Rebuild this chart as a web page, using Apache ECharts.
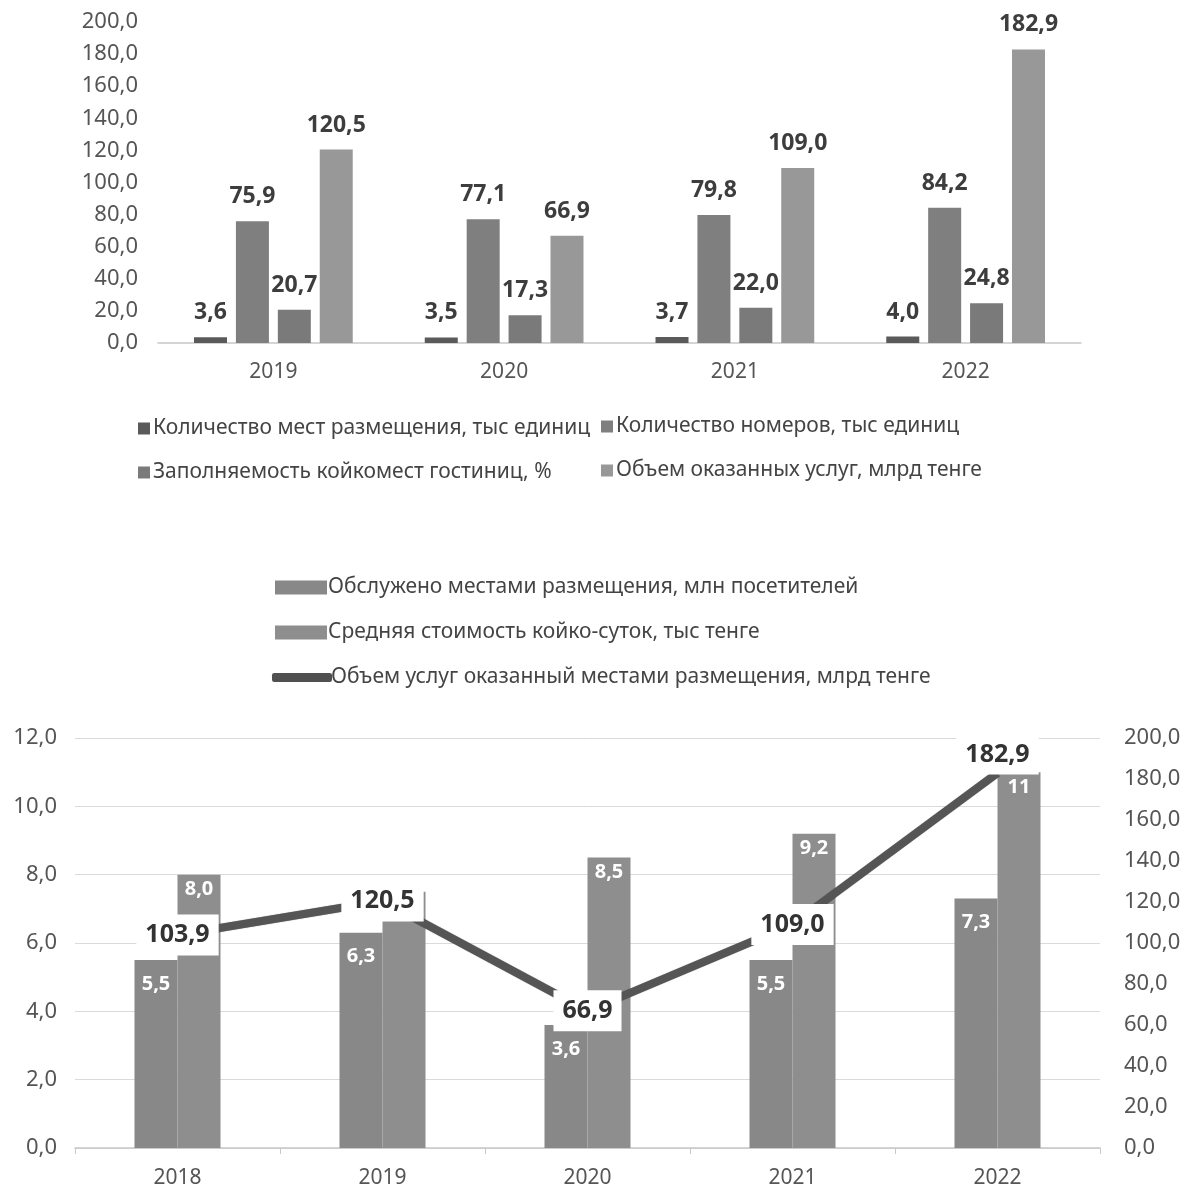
<!DOCTYPE html>
<html>
<head>
<meta charset="utf-8">
<script src="https://cdn.jsdelivr.net/npm/echarts@6/dist/echarts.min.js"></script>
<style>
  html, body { margin: 0; padding: 0; background: #fff; }
  #top { width: 1190px; height: 500px; }
  #bottom { width: 1190px; height: 690px; }
</style>
</head>
<body>
<div id="top"></div>
<div id="bottom"></div>
<script>
// верхняя диаграмма
const years1 = ['2019', '2020', '2021', '2022']
const places = [3.6, 3.5, 3.7, 4.0]
const rooms = [75.9, 77.1, 79.8, 84.2]
const occupancy = [20.7, 17.3, 22.0, 24.8]
const services = [120.5, 66.9, 109.0, 182.9]
const names1 = [
  'Количество мест размещения, тыс единиц',
  'Количество номеров, тыс единиц',
  'Заполняемость койкомест гостиниц, %',
  'Объем оказанных услуг, млрд тенге'
]

// нижняя диаграмма
const years2 = ['2018', '2019', '2020', '2021', '2022']
const visitors = [5.5, 6.3, 3.6, 5.5, 7.3]
const bedCost = [8.0, 7.5, 8.5, 9.2, 11]
const bedCostLabels = ['8,0', '7,5', '8,5', '9,2', '11']
const servicesVolume = [103.9, 120.5, 66.9, 109.0, 182.9]
const names2 = [
  'Обслужено местами размещения, млн посетителей',
  'Средняя стоимость койко-суток, тыс тенге',
  'Объем услуг оказанный местами размещения, млрд тенге'
]

const font = '"Noto Sans", "Open Sans", sans-serif'
const fmt = v => Number(v).toFixed(1).replace('.', ',')

const topColors = ['#5a5a5a', '#7f7f7f', '#7a7a7a', '#989898']
const legendText = { fontFamily: font, fontSize: 21, color: '#444', padding: [0, 0, 0, -2] }

const topChart = echarts.init(document.getElementById('top'))
topChart.setOption({
  animation: false,
  textStyle: { fontFamily: font },
  grid: { left: 158, right: 109, top: 22, height: 321 },
  legend: [
    {
      data: [names1[0], names1[2]],
      orient: 'vertical',
      left: 133,
      top: 413,
      icon: 'rect',
      itemWidth: 12,
      itemHeight: 12,
      itemGap: 23,
      textStyle: legendText
    },
    {
      data: [names1[1], names1[3]],
      orient: 'vertical',
      left: 596,
      top: 411,
      icon: 'rect',
      itemWidth: 12,
      itemHeight: 12,
      itemGap: 23,
      textStyle: legendText
    }
  ],
  xAxis: {
    type: 'category',
    data: years1,
    axisLine: { lineStyle: { color: '#c8c8c8', width: 1.5 } },
    axisTick: { show: false },
    axisLabel: { fontFamily: font, fontSize: 21, color: '#555', margin: 19 }
  },
  yAxis: {
    type: 'value',
    min: 0,
    max: 200,
    interval: 20,
    splitLine: { show: false },
    axisLabel: { fontFamily: font, fontSize: 22, color: '#555', margin: 20, formatter: fmt }
  },
  series: [places, rooms, occupancy, services].map((d, i) => ({
    name: names1[i],
    type: 'bar',
    data: d,
    barWidth: 33,
    barGap: '27%',
    itemStyle: { color: topColors[i] },
    label: {
      show: true,
      position: 'top',
      distance: 13,
      formatter: p => fmt(p.value),
      fontFamily: font,
      fontSize: 23,
      fontWeight: 'bold',
      color: '#3d3d3d'
    }
  }))
})

const bottomChart = echarts.init(document.getElementById('bottom'))
const lastIdx = servicesVolume.length - 1
bottomChart.setOption({
  animation: false,
  textStyle: { fontFamily: font },
  grid: { left: 75, right: 90, top: 238, bottom: 42 },
  legend: [
    {
      data: [names2[0]],
      left: 270,
      top: 72,
      icon: 'rect',
      itemWidth: 52,
      itemHeight: 14,
      textStyle: { ...legendText, padding: [0, 0, 0, -4] }
    },
    {
      data: [names2[1]],
      left: 270,
      top: 117,
      icon: 'rect',
      itemWidth: 52,
      itemHeight: 14,
      textStyle: { ...legendText, padding: [0, 0, 0, -4] }
    },
    {
      data: [{ name: names2[2], icon: 'roundRect' }],
      left: 267,
      top: 162,
      itemWidth: 60,
      itemHeight: 9,
      textStyle: { ...legendText, padding: [0, 0, 0, -6] }
    }
  ],
  xAxis: {
    type: 'category',
    data: years2,
    axisLine: { lineStyle: { color: '#c8c8c8', width: 1.5 } },
    axisTick: { show: true, length: 6, lineStyle: { color: '#c8c8c8' } },
    axisLabel: { fontFamily: font, fontSize: 21, color: '#555', margin: 20 }
  },
  yAxis: [
    {
      type: 'value',
      min: 0,
      max: 12,
      interval: 2,
      splitLine: { lineStyle: { color: '#dadada', width: 1 } },
      axisLabel: { fontFamily: font, fontSize: 22, color: '#555', margin: 18, formatter: fmt }
    },
    {
      type: 'value',
      min: 0,
      max: 200,
      interval: 20,
      splitLine: { show: false },
      axisLabel: { fontFamily: font, fontSize: 22, color: '#555', margin: 24, formatter: fmt }
    }
  ],
  series: [
    {
      name: names2[0],
      type: 'bar',
      data: visitors,
      barWidth: 43,
      barGap: '0%',
      itemStyle: { color: '#888888' },
      label: {
        show: true,
        position: 'insideTop',
        distance: 14,
        formatter: p => fmt(p.value),
        fontFamily: font,
        fontSize: 20,
        fontWeight: 'bold',
        color: '#fff'
      }
    },
    {
      name: names2[1],
      type: 'bar',
      data: bedCost,
      barWidth: 43,
      barGap: '0%',
      itemStyle: { color: '#8e8e8e' },
      label: {
        show: true,
        position: 'insideTop',
        distance: 5,
        formatter: p => bedCostLabels[p.dataIndex],
        fontFamily: font,
        fontSize: 20,
        fontWeight: 'bold',
        color: '#fff'
      }
    },
    {
      name: names2[2],
      type: 'line',
      yAxisIndex: 1,
      z: 5,
      data: servicesVolume.map((v, i) => i === lastIdx
        ? { value: v, label: { position: 'top', distance: -2 } }
        : v),
      symbol: 'circle',
      symbolSize: 1,
      showSymbol: true,
      lineStyle: { color: '#555555', width: 8, shadowColor: 'rgba(0,0,0,0.4)', shadowBlur: 1 },
      itemStyle: { color: '#505050' },
      label: {
        show: true,
        position: 'inside',
        formatter: p => fmt(p.value),
        fontFamily: font,
        fontSize: 25,
        fontWeight: 'bold',
        color: '#333',
        backgroundColor: '#fff',
        padding: [9, 9, 7, 9]
      }
    }
  ]
})
</script>
</body>
</html>
